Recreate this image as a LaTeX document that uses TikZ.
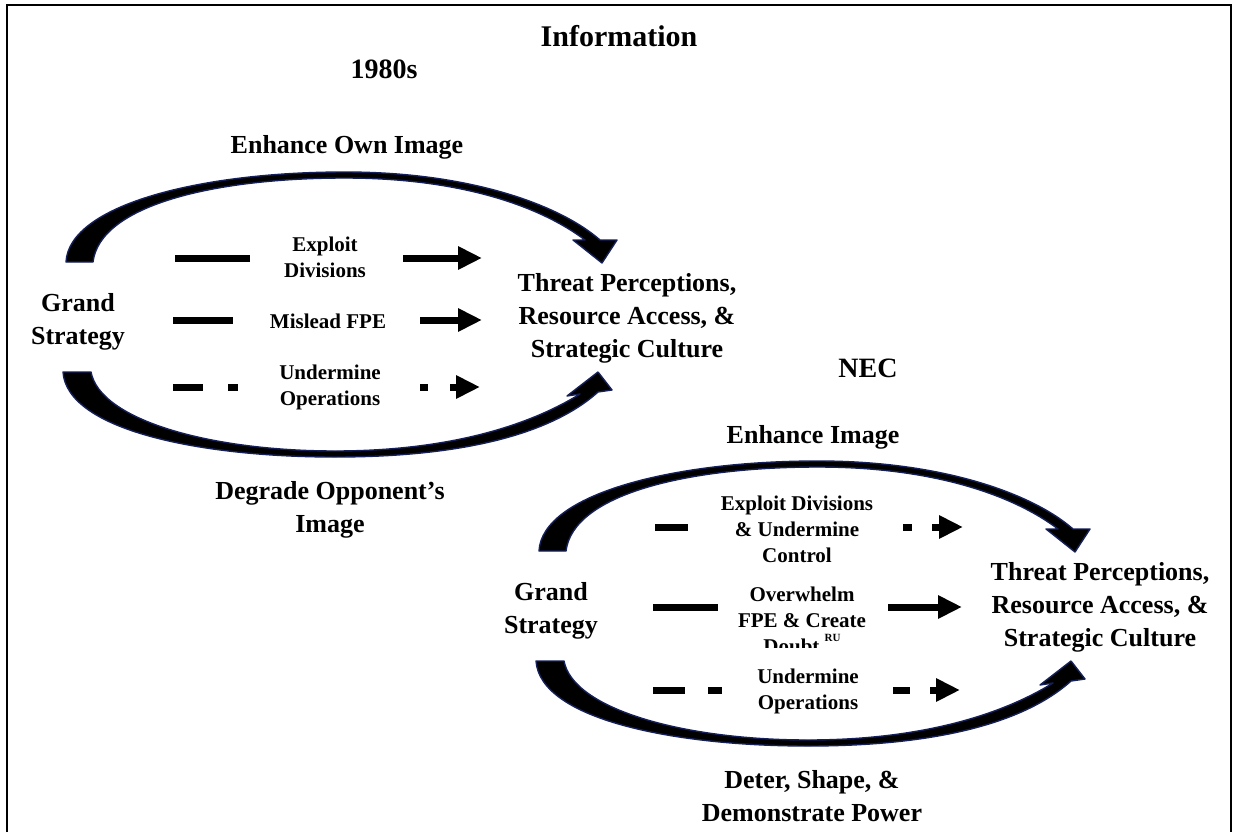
\documentclass[tikz,border=0pt]{standalone}
\usepackage{fontspec}
\setmainfont{Liberation Serif}
\usetikzlibrary{arrows.meta}
\definecolor{arcedge}{RGB}{22,32,88}
\begin{document}
\begin{tikzpicture}[x=1pt,y=-1pt,
  title/.style={font=\fontsize{30}{36}\selectfont\bfseries},
  era/.style={font=\fontsize{28}{34}\selectfont\bfseries},
  lbl/.style={font=\fontsize{26}{33}\selectfont\bfseries, align=center, inner sep=0pt},
  sml/.style={font=\fontsize{21}{26}\selectfont\bfseries, align=center, inner sep=0pt},
  bigarc/.style={fill=black, draw=arcedge, line width=1.4pt, line join=round},
  bar/.style={line width=7pt},
  barr/.style={line width=7pt, -{Triangle[length=24pt,width=22pt]}},
  upper bend/.pic={
    \path[bigarc] (66,262) .. controls (69,205) and (200,172) .. (345,172)
      .. controls (470,172) and (560,205) .. (600,240)
      -- (617,240) -- (602,263) -- (573,240) -- (585,240)
      .. controls (540,206) and (460,178) .. (345,178)
      .. controls (215,178) and (100,205) .. (93,262) -- cycle;
  },
  lower bend/.pic={
    \path[bigarc] (63,372) -- (91,372)
      .. controls (100,420) and (210,451) .. (335,451)
      .. controls (450,451) and (530,425) .. (580,394)
      -- (567,396) -- (598,372) -- (612,390) -- (598,392)
      .. controls (550,435) and (460,457) .. (335,457)
      .. controls (200,457) and (67,430) .. (63,372) -- cycle;
  },
]
\useasboundingbox (0,0) rectangle (1233,832);
\fill[white] (0,0) rectangle (1233,832);

% frame, open at the bottom
\draw[line width=2.5pt] (7,832) -- (7,5) -- (1231,5) -- (1231,832);

% headings
\node[title] (info) at (619,36) {Information};
\node[era] (eraold) at (384,69) {1980s};
\node[era] (eranew) at (868,368) {NEC};

% ---------------- 1980s ----------------
\pic at (0,0) {upper bend};
\pic at (0,0) {lower bend};

\node[lbl] (enhA) at (347,147) {Enhance Own Image};
\node[lbl] (gsA) at (78,322) {Grand\\Strategy};
\node[lbl] (tpA) at (627,318) {Threat Perceptions,\\Resource Access, \&\\Strategic Culture};
\node[lbl] (degA) at (330,510) {Degrade Opponent's\\Image};

\node[sml] (exA) at (325,257) {Exploit\\Divisions};
\node[sml] (miA) at (328,321) {Mislead FPE};
\node[sml] (unA) at (330,387) {Undermine\\Operations};

\coordinate (a1) at (175,258); \coordinate (a2) at (250,258);
\coordinate (a3) at (403,258); \coordinate (a4) at (482,258);
\draw[bar] (a1) -- (a2);
\draw[barr] (a3) -- (a4);

\coordinate (b1) at (173,320); \coordinate (b2) at (233,320);
\coordinate (b3) at (420,320); \coordinate (b4) at (482,320);
\draw[bar] (b1) -- (b2);
\draw[barr] (b3) -- (b4);

\coordinate (c1) at (173,387); \coordinate (c2) at (203,387);
\coordinate (c3) at (228,387); \coordinate (c4) at (238,387);
\coordinate (c5) at (420,387); \coordinate (c6) at (428,387);
\coordinate (c7) at (450,387); \coordinate (c8) at (480,387);
\draw[bar] (c1) -- (c2);
\draw[bar] (c3) -- (c4);
\draw[bar] (c5) -- (c6);
\draw[barr] (c7) -- (c8);

% ---------------- NEC ----------------
\pic at (473,289) {upper bend};
\pic at (473,289) {lower bend};

\node[lbl] (enhB) at (813,437) {Enhance Image};
\node[lbl] (gsB) at (551,611) {Grand\\Strategy};
\node[lbl] (tpB) at (1100,607) {Threat Perceptions,\\Resource Access, \&\\Strategic Culture};
\node[lbl] (detB) at (812,796) {Deter, Shape, \&\\Demonstrate Power};

\node[sml] (exB) at (797,529) {Exploit Divisions\\\& Undermine\\Control};
% the text box is shorter than its text, so the last line is cut off
\begin{scope}
  \clip (600,560) rectangle (1000,647);
  \node[sml] (ovB) at (802,620) {Overwhelm\\FPE \& Create\\Doubt \raisebox{0.55em}{\fontsize{11}{11}\selectfont RU}};
\end{scope}
\node[sml] (unB) at (808,691) {Undermine\\Operations};

\coordinate (d1) at (655,527); \coordinate (d2) at (688,527);
\coordinate (d3) at (903,527); \coordinate (d4) at (912,527);
\coordinate (d5) at (932,527); \coordinate (d6) at (963,527);
\draw[bar] (d1) -- (d2);
\draw[bar] (d3) -- (d4);
\draw[barr] (d5) -- (d6);

\coordinate (e1) at (653,607); \coordinate (e2) at (718,607);
\coordinate (e3) at (888,607); \coordinate (e4) at (962,607);
\draw[bar] (e1) -- (e2);
\draw[barr] (e3) -- (e4);

\coordinate (f1) at (653,690); \coordinate (f2) at (685,690);
\coordinate (f3) at (708,690); \coordinate (f4) at (722,690);
\coordinate (f5) at (893,690); \coordinate (f6) at (910,690);
\coordinate (f7) at (930,690); \coordinate (f8) at (960,690);
\draw[bar] (f1) -- (f2);
\draw[bar] (f3) -- (f4);
\draw[bar] (f5) -- (f6);
\draw[barr] (f7) -- (f8);
\end{tikzpicture}
\end{document}
